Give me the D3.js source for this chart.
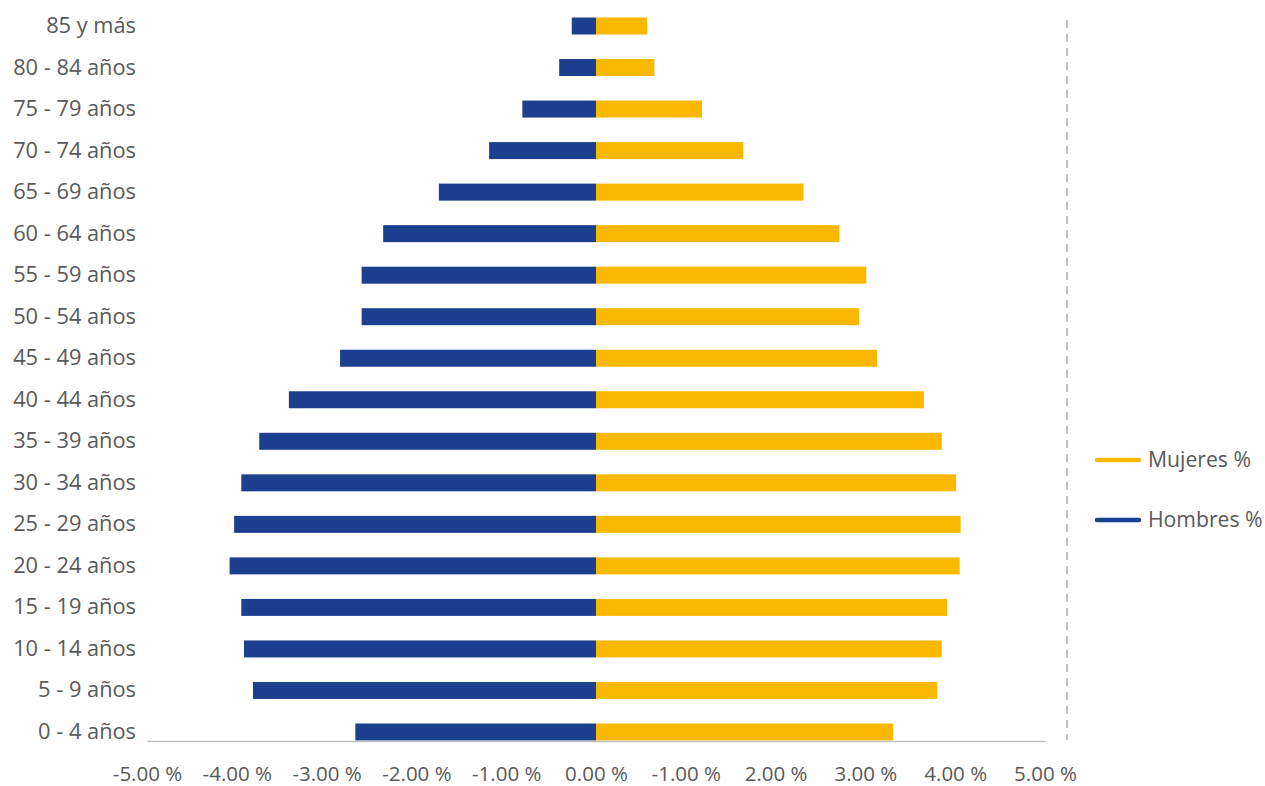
<!DOCTYPE html>
<html><head><meta charset="utf-8">
<script src="https://cdn.jsdelivr.net/npm/d3@7"></script>
<style>body{margin:0;background:#fff}svg{display:block}text{font-family:"Open Sans",sans-serif;fill:#595959}</style>
</head><body><svg id="c" width="1265" height="786"></svg>
<script>
const categories = ["85 y más","80 - 84 años","75 - 79 años","70 - 74 años","65 - 69 años","60 - 64 años","55 - 59 años","50 - 54 años","45 - 49 años","40 - 44 años","35 - 39 años","30 - 34 años","25 - 29 años","20 - 24 años","15 - 19 años","10 - 14 años","5 - 9 años","0 - 4 años"];
const hombres = [-0.27,-0.41,-0.82,-1.19,-1.75,-2.37,-2.61,-2.61,-2.85,-3.42,-3.75,-3.95,-4.03,-4.08,-3.95,-3.92,-3.82,-2.68];
const mujeres = [0.57,0.65,1.18,1.64,2.31,2.71,3.01,2.93,3.13,3.65,3.85,4.01,4.06,4.05,3.91,3.85,3.80,3.31];
const tickValues = [-5,-4,-3,-2,-1,0,1,2,3,4,5];
const tickLabels = ["-5.00 %","-4.00 %","-3.00 %","-2.00 %","-1.00 %","0.00 %","-1.00 %","2.00 %","3.00 %","4.00 %","5.00 %"];
const seriesNames = ["Mujeres %","Hombres %"];
const colors = {m:"#FAB800", h:"#1C3F8F"};

const svg = d3.select("#c");
const x = d3.scaleLinear().domain([-5,5]).range([147,1045]);
const step = (732-26)/17;
const y = d3.scaleBand().domain(categories).range([26-step/2, 732+step/2]).paddingInner(1-17/step).paddingOuter((1-17/step)/2);

// bars
svg.append("g").selectAll("rect").data(categories).join("rect")
  .attr("x", (d,i)=>x(hombres[i])).attr("y", d=>y(d)).attr("height", y.bandwidth())
  .attr("width",(d,i)=>x(0)-x(hombres[i])).attr("fill",colors.h);
svg.append("g").selectAll("rect").data(categories).join("rect")
  .attr("x", x(0)).attr("y", d=>y(d)).attr("height", y.bandwidth())
  .attr("width",(d,i)=>x(mujeres[i])-x(0)).attr("fill",colors.m);

// x axis
const xa = svg.append("g").attr("transform","translate(0,741)")
  .call(d3.axisBottom(x).tickValues(tickValues).tickSize(0).tickPadding(25).tickFormat((d,i)=>tickLabels[i]));
xa.select(".domain").attr("stroke","#BFBFBF").attr("stroke-width",1.5);
xa.selectAll("text").attr("font-size",20.5).attr("fill","#595959").style("font-family","'Open Sans',sans-serif");

// y labels
const ya = svg.append("g").attr("transform","translate(147,0)")
  .call(d3.axisLeft(y).tickSize(0).tickPadding(11));
ya.select(".domain").remove();
ya.selectAll("text").attr("font-size",21.8).attr("fill","#595959").style("font-family","'Open Sans',sans-serif");

// dashed line
svg.append("line").attr("x1",1067).attr("x2",1067).attr("y1",20).attr("y2",740)
  .attr("stroke","#BFBFBF").attr("stroke-width",2).attr("stroke-dasharray","8,6");

// legend
const leg = svg.append("g");
[colors.m, colors.h].forEach((c,i)=>{
  const yy = 460 + i*60;
  leg.append("line").attr("x1",1097).attr("x2",1139).attr("y1",yy).attr("y2",yy)
    .attr("stroke",c).attr("stroke-width",4.5).attr("stroke-linecap","round");
  leg.append("text").attr("x",1148).attr("y",yy).attr("dy","0.35em").attr("font-size",21.2).text(seriesNames[i]);
});
</script></body></html>
